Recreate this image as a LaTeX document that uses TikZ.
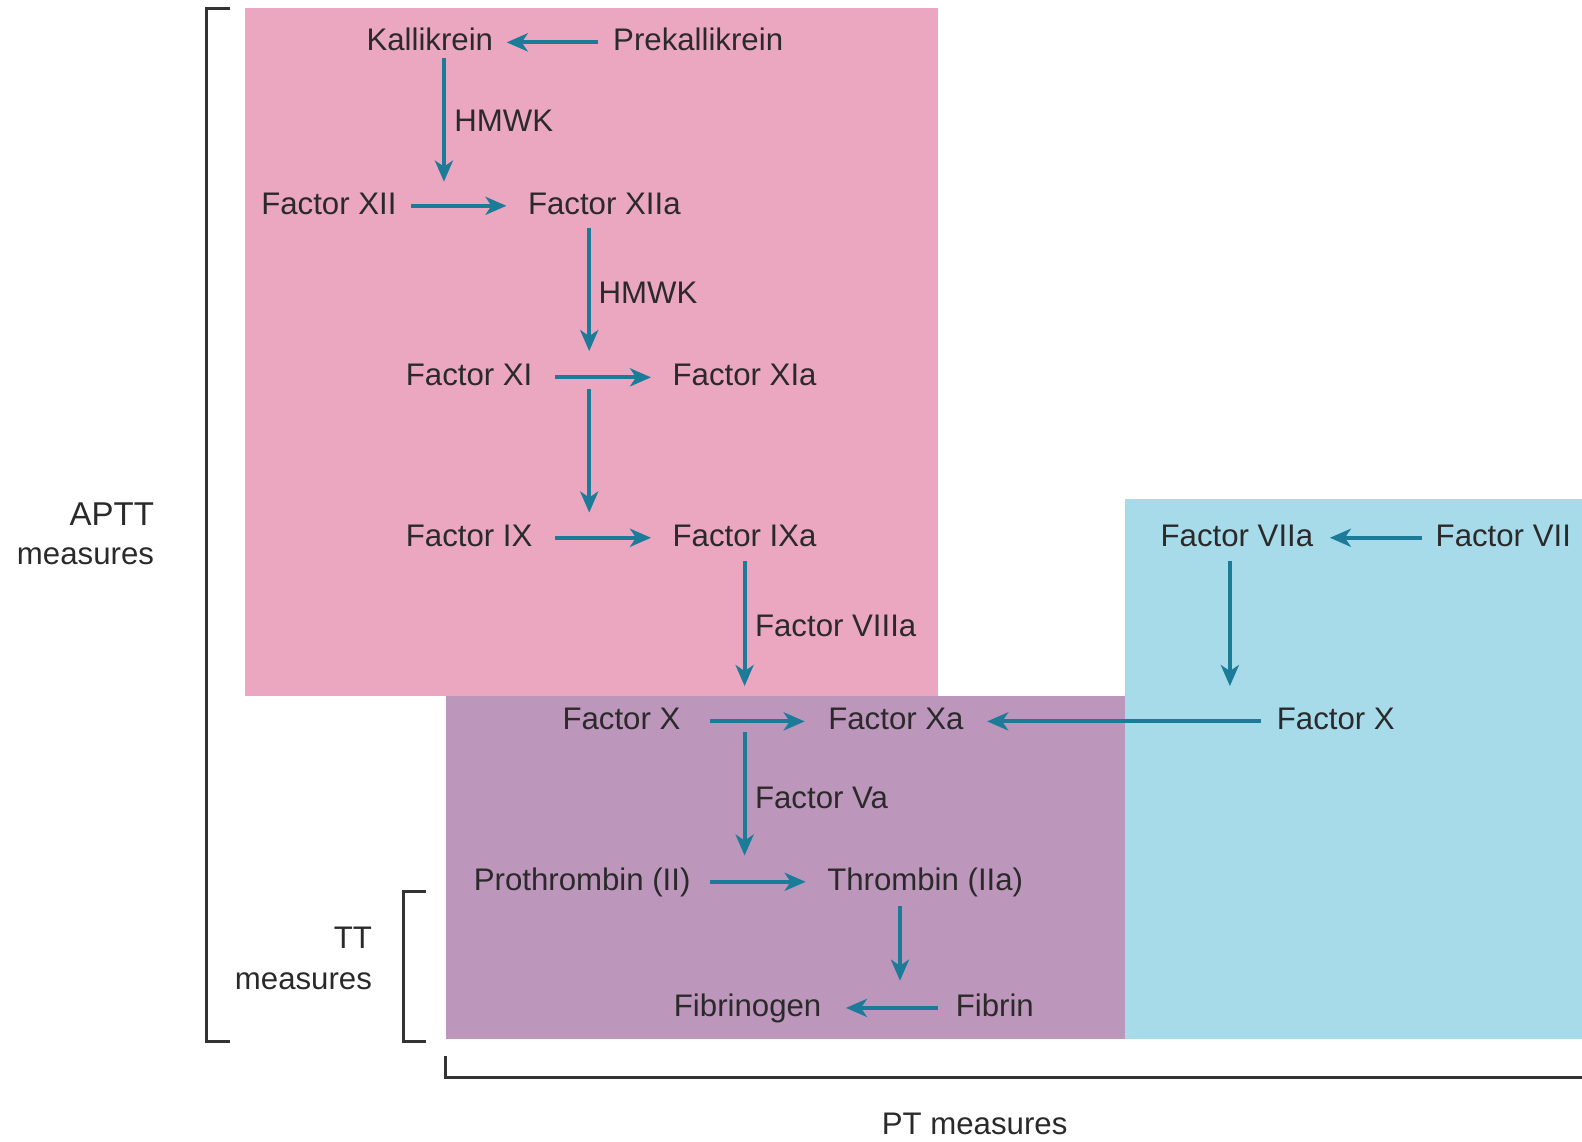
\documentclass[tikz,border=0pt]{standalone}
\usepackage{fontspec}
\setmainfont{Liberation Sans}
\usetikzlibrary{arrows.meta,calc}
\definecolor{pinkbg}{HTML}{EBA6C0}
\definecolor{purplebg}{HTML}{BD96BB}
\definecolor{bluebg}{HTML}{A8DBEA}
\definecolor{arrowc}{HTML}{1B7B99}
\definecolor{txt}{HTML}{2B2A2B}
\definecolor{brk}{HTML}{333333}
\begin{document}
\begin{tikzpicture}[x=0.5045pt,y=-0.5045pt,
  lbl/.style={inner sep=0pt,text height=0.85em,text depth=0pt,font=\fontsize{15.6pt}{18pt}\selectfont,text=txt},
  arr/.style={draw=arrowc,line width=2pt,-{Stealth[length=10.5pt,width=9pt,inset=3pt]}},
  brack/.style={draw=brk,line width=1.5pt}]
\useasboundingbox (0,0) rectangle (1568,1131);
% background regions
\fill[pinkbg] (243,8) rectangle (930,690);
\fill[purplebg] (442,690) rectangle (1115,1030);
\fill[bluebg] (1115,495) rectangle (1568,1030);
% brackets
\draw[brack] (228,8) -- (205,8) -- (205,1032) -- (228,1032);
\draw[brack] (422,884) -- (400,884) -- (400,1032) -- (422,1032);
\draw[brack] (442,1047) -- (442,1068) -- (1568,1068);
% bracket labels
\node[lbl,anchor=east,font=\fontsize{16.5pt}{19pt}\selectfont] (aptt) at (153,512) {APTT};
\node[lbl,anchor=east] (apttm) at (153,551) {measures};
\node[lbl,anchor=east] (tt) at (369,932) {TT};
\node[lbl,anchor=east] (ttm) at (369,972) {measures};
\node[lbl] (ptm) at (966,1116) {PT measures};
% factor nodes
\node[lbl] (kal) at (426,42) {Kallikrein};
\node[lbl] (pre) at (692,42) {Prekallikrein};
\node[lbl] (f12) at (326,204) {Factor XII};
\node[lbl] (f12a) at (599,204) {Factor XIIa};
\node[lbl] (f11) at (465,374) {Factor XI};
\node[lbl] (f11a) at (738,374) {Factor XIa};
\node[lbl] (f9) at (465,533) {Factor IX};
\node[lbl] (f9a) at (738,533) {Factor IXa};
\node[lbl] (f10) at (616,715) {Factor X};
\node[lbl] (f10a) at (888,715) {Factor Xa};
\node[lbl] (f10r) at (1324,715) {Factor X};
\node[lbl] (f7a) at (1226,533) {Factor VIIa};
\node[lbl] (f7) at (1490,533) {Factor VII};
\node[lbl] (pro) at (577,874) {Prothrombin (II)};
\node[lbl] (thr) at (917,874) {Thrombin (IIa)};
\node[lbl] (fgn) at (741,999) {Fibrinogen};
\node[lbl] (fbn) at (986,999) {Fibrin};
% arrow labels
\node[lbl,anchor=west] (h1) at (450,122) {HMWK};
\node[lbl,anchor=west] (h2) at (593,292) {HMWK};
\node[lbl,anchor=west] (v8) at (748,622) {Factor VIIIa};
\node[lbl,anchor=west] (v5) at (748,793) {Factor Va};
% arrow end coordinates
\coordinate (c1) at (440,180);
\coordinate (c2) at (584,348);
\coordinate (c3) at (584,508);
\coordinate (c4) at (738,680);
\coordinate (c5) at (1219,680);
\coordinate (c6) at (738,848);
\coordinate (c7) at (892,972);
% horizontal arrows
\draw[arr,shorten <=7.3pt,shorten >=6.6pt] (pre.west) -- (kal.east);
\draw[arr,shorten <=7.1pt,shorten >=10.6pt] (f12.east) -- (f12a.west);
\draw[arr,shorten <=11.1pt,shorten >=10.6pt] (f11.east) -- (f11a.west);
\draw[arr,shorten <=11.1pt,shorten >=10.6pt] (f9.east) -- (f9a.west);
\draw[arr,shorten <=14.6pt,shorten >=11.6pt] (f10.east) -- (f10a.west);
\draw[arr,shorten <=7.8pt,shorten >=11.6pt] (f10r.west) -- (f10a.east);
\draw[arr,shorten <=6.6pt,shorten >=8.1pt] (f7.west) -- (f7a.east);
\draw[arr,shorten <=9.6pt,shorten >=10.6pt] (pro.east) -- (thr.west);
\draw[arr,shorten <=8.6pt,shorten >=12.1pt] (fbn.west) -- (fgn.east);
% vertical arrows
\draw[arr,shorten <=3.5pt] (kal.south -| c1) -- (c1);
\draw[arr,shorten <=6.6pt] (f12a.south -| c2) -- (c2);
\draw[arr,shorten <=1.5pt] (f11.south -| c3) -- (c3);
\draw[arr,shorten <=7.1pt] (f9a.south -| c4) -- (c4);
\draw[arr,shorten <=7.1pt] (f7a.south -| c5) -- (c5);
\draw[arr,shorten <=1pt] (f10a.south -| c6) -- (c6);
\draw[arr,shorten <=7.6pt] (thr.south -| c7) -- (c7);
\end{tikzpicture}
\end{document}
